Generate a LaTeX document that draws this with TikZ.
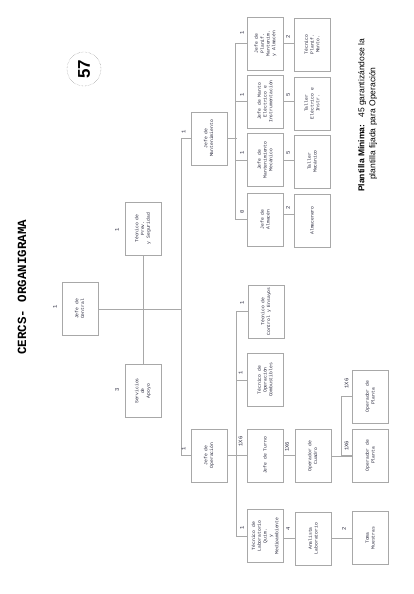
\documentclass[tikz,border=0pt]{standalone}
\usepackage{fontspec}
\setmainfont{Liberation Sans}
\setsansfont{Liberation Sans}
\setmonofont{Liberation Mono}
\usepackage{graphicx}
\definecolor{linegray}{RGB}{168,168,168}
\definecolor{txtcol}{RGB}{40,40,60}
\newcommand{\vt}[1]{\rotatebox{90}{\begin{tabular}{@{}c@{}}#1\end{tabular}}}
\tikzset{
  box/.style={draw=linegray, line width=0.8pt, minimum width=36pt, minimum height=53pt,
    inner sep=0pt, font=\fontsize{4.7}{5.8}\selectfont\ttfamily, text=txtcol},
  lbl/.style={rotate=90, font=\fontsize{5.5}{6}\selectfont\ttfamily, inner sep=0pt, text=txtcol},
  conn/.style={draw=linegray, line width=0.8pt}
}
\begin{document}
\begin{tikzpicture}[x=1pt,y=-1pt]
\useasboundingbox[fill=white] (0,0) rectangle (413,594);
% title
\node[rotate=90, font=\fontsize{12.5}{13}\selectfont\ttfamily\bfseries] (title) at (22,287) {CERCS- ORGANIGRAMA};
% 57
\node[circle, draw=gray, densely dotted, minimum size=34pt, inner sep=0pt] (c57) at (84,69) {};
\node[rotate=90, font=\fontsize{17}{17}\selectfont\sffamily\bfseries] (n57) at (c57) {57};
% boxes
\node[box] (jc) at (80,309) {\vt{Jefe de\\Central}};
\node[box] (tps) at (143,228.5) {\vt{Técnico de\\Prev.\\y Seguridad}};
\node[box] (sa) at (143,391) {\vt{Servicios\\de\\Apoyo}};
\node[box] (jm) at (209,138.5) {\vt{Jefe de\\Mantenimiento}};
\node[box] (jo) at (209,455.5) {\vt{Jefe de\\Operación}};
% maintenance
\node[box] (jpm) at (265.5,43.5) {\vt{Jefe de\\Planif.\\Mantenim.\\y Almacén}};
\node[box] (jme) at (265.5,101.5) {\vt{Jefe de Manto\\Eléctrico e\\Instrumentación}};
\node[box] (jmm) at (265.5,160) {\vt{Jefe de\\Mantenimiento\\Mecánico}};
\node[box] (ja) at (265.5,219.5) {\vt{Jefe de\\Almacén}};
\node[box] (tpm) at (312.5,44.5) {\vt{Técnico\\Planif.\\Manto.}};
\node[box] (tel) at (312.5,103.5) {\vt{Taller\\Eléctrico e\\Instr.}};
\node[box] (tmec) at (312.5,161.5) {\vt{Taller\\Mecánico}};
\node[box] (alm) at (312.5,220.5) {\vt{Almacenero}};
% operation
\node[box] (tce) at (266,311.5) {\vt{Técnico de\\Control y Ensayos}};
\node[box] (toc) at (265.5,380) {\vt{Técnico de\\Operación\\Combustibles}};
\node[box] (jt) at (265.5,455.5) {\vt{Jefe de Turno}};
\node[box] (tlab) at (265.5,536) {\vt{Técnico de\\Laboratorio\\Quím.\\y\\Medioambiente}};
\node[box] (oc) at (313,456) {\vt{Operador de\\Cuadro}};
\node[box] (al) at (313.5,538.5) {\vt{Analista\\Laboratorio}};
\node[box] (op1) at (370.5,396.5) {\vt{Operador de\\Planta}};
\node[box] (op2) at (370.5,455.5) {\vt{Operador de\\Planta}};
\node[box] (tm) at (370.5,538) {\vt{Toma\\Muestras}};
% connectors
\coordinate (tk) at (181,300);
\draw[conn] (jm.west) -- (jm.west -| tk) |- (jo.west);
\draw[conn] (jc.east) -- (jc.east -| tk);
\draw[conn] (tps.south) -- (sa.north);
\draw[conn] (jm.east) -- ++(9.5,0);
\draw[conn] (jpm.west) -- ++(-11.5,0) |- (ja.west);
\draw[conn] (jme.west) -- ++(-11.5,0);
\draw[conn] (jmm.west) -- ++(-11.5,0);
\draw[conn] (jpm.east) -- (jpm.east -| tpm.west);
\draw[conn] (jme.east) -- (jme.east -| tel.west);
\draw[conn] (jmm.east) -- (jmm.east -| tmec.west);
\draw[conn] ([yshift=5.5pt]ja.east) -- ([yshift=5.5pt]ja.east -| alm.west);
\draw[conn] (tce.west) -- ++(-11,0) |- (tlab.west);
\draw[conn] (toc.west) -- ++(-11,0);
\draw[conn] (jo.east) -- (jt.west);
\draw[conn] (jt.east) -- (jt.east -| oc.west);
\draw[conn] (oc.east) -- (oc.east -| op2.west);
\draw[conn] (op1.west) -- ++(-10.5,0) |- (op2.west);
\draw[conn] (tlab.east |- al.west) -- (al.west);
\draw[conn] (al.east) -- (al.east -| tm.west);
% labels
\node[lbl] (l1) at (55,307) {1};
\node[lbl] (l2) at (117,230) {1};
\node[lbl] (l3) at (117,390) {3};
\node[lbl] (l4) at (183.5,449) {1};
\node[lbl] (l5) at (183.5,132) {1};
\node[lbl] (l6) at (242,33) {1};
\node[lbl] (l7) at (242,95) {1};
\node[lbl] (l8) at (242,153) {1};
\node[lbl] (l9) at (242,212) {0};
\node[lbl] (l10) at (288,37) {2};
\node[lbl] (l11) at (288,95) {5};
\node[lbl] (l12) at (288,153) {5};
\node[lbl] (l13) at (288,208) {2};
\node[lbl] (l14) at (242,303) {1};
\node[lbl] (l15) at (240.5,373) {1};
\node[lbl] (l16) at (240.5,441.5) {1X6};
\node[lbl] (l17) at (242,528) {1};
\node[lbl] (l18) at (287,447) {1X6};
\node[lbl] (l19) at (288,529) {4};
\node[lbl] (l20) at (346.5,446) {1X6};
\node[lbl] (l21) at (346.5,383.5) {1X6};
\node[lbl] (l22) at (344,529) {2};
% note
\node[rotate=90, anchor=west, inner sep=0pt, font=\fontsize{8.5}{10}\selectfont\sffamily] (note1) at (362,192) {\textbf{Plantilla Mínima:}\ \ \ 45 garantizándose la};
\node[rotate=90, anchor=west, inner sep=0pt, font=\fontsize{8.5}{10}\selectfont\sffamily] (note2) at (373,180) {plantilla fijada para Operación};
\end{tikzpicture}
\end{document}
